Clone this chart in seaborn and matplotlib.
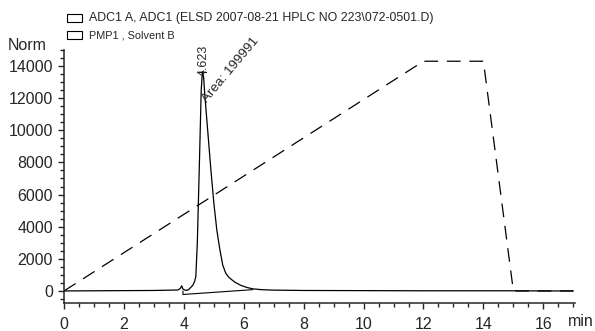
import numpy as np
import pandas as pd
import seaborn as sns
import matplotlib.pyplot as plt
from matplotlib.ticker import MultipleLocator

sns.set_style("ticks")
plt.rcParams['font.family'] = ['Liberation Sans', 'DejaVu Sans']

# ELSD signal
t_elsd = [0, 1, 2, 3, 3.8, 3.88, 3.93, 3.97, 4.05, 4.15, 4.22, 4.3, 4.36, 4.4, 4.45, 4.52, 4.58,
          4.62, 4.66, 4.7, 4.8, 4.9, 5.0, 5.1, 5.2, 5.3, 5.4, 5.5, 5.7, 5.9, 6.1, 6.3, 6.6,
          7, 8, 10, 12, 14, 15, 16, 17]
y_elsd = [0, 10, 20, 30, 60, 150, 320, 120, 40, 60, 200, 350, 600, 900, 3000, 8000, 12500,
          13650, 13300, 12200, 9900, 7600, 5500, 3800, 2600, 1600, 1100, 850, 550, 350, 220, 130, 80,
          50, 30, 20, 10, 10, 10, 0, 0]

# pump gradient, Solvent B
t_pump = [0, 12, 14, 15, 15.05, 17]
y_pump = [0, 14300, 14300, 0, 0, 0]

# integration baseline
t_base = [3.97, 3.97, 6.3]
y_base = [0, -220, 80]

peak_rt = 4.623
peak_h = 13650
peak_area = 199991

df_elsd = pd.DataFrame({"t": t_elsd, "v": y_elsd})
df_pump = pd.DataFrame({"t": t_pump, "v": y_pump})
df_base = pd.DataFrame({"t": t_base, "v": y_base})

fig = plt.figure(figsize=(5.95, 3.31), dpi=100)
ax = fig.add_axes([0.1076, 0.0846, 0.8584, 0.7644])

sns.lineplot(data=df_elsd, x="t", y="v", ax=ax, color="black", lw=0.9, sort=False, estimator=None)
sns.lineplot(data=df_pump, x="t", y="v", ax=ax, color="black", lw=0.9, sort=False,
             estimator=None, dashes=False)
ax.lines[-1].set_dashes([11, 7])
sns.lineplot(data=df_base, x="t", y="v", ax=ax, color="black", lw=0.8, sort=False, estimator=None)

# apex mark and labels
ax.plot([peak_rt - 0.12, peak_rt + 0.12], [peak_h, peak_h], color="black", lw=0.8)
ax.text(peak_rt + 0.04, peak_h - 300, f"{peak_rt:.3f}", rotation=90, ha="center", va="bottom",
        fontsize=9)
ax.text(4.78, 11700, f"Area: {peak_area}", rotation=50, ha="left", va="baseline",
        fontsize=9.7, rotation_mode="anchor")

ax.set_xlim(0, 17.05)
ax.set_ylim(-750, 15000)
ax.xaxis.set_major_locator(MultipleLocator(2))
ax.xaxis.set_minor_locator(MultipleLocator(0.5))
ax.yaxis.set_major_locator(MultipleLocator(2000))
ax.yaxis.set_minor_locator(MultipleLocator(500))
ax.tick_params(which="major", length=4, width=1, labelsize=11.5)
ax.tick_params(axis="x", which="major", pad=6)
ax.tick_params(axis="y", which="major", pad=4)
ax.tick_params(which="minor", length=3, width=1)
for s in ["top", "right"]:
    ax.spines[s].set_visible(False)
for s in ["left", "bottom"]:
    ax.spines[s].set_linewidth(1.1)
ax.set_xlabel("")
ax.set_ylabel("")

fig.text(8 / 595, 1 - 46 / 331, "Norm", fontsize=11.5, ha="left", va="center")
fig.text(568 / 595, 1 - 321 / 331, "min", fontsize=11.5, ha="left", va="center")

# legend-like header
for yy, label, fs in [(18, "ADC1 A, ADC1 (ELSD 2007-08-21 HPLC NO 223\\072-0501.D)", 8.9),
                      (35, "PMP1 , Solvent B", 7.8)]:
    fig.patches.append(plt.Rectangle((67 / 595, 1 - (yy + 4) / 331), 15 / 595, 8 / 331,
                                     transform=fig.transFigure, fill=False, lw=0.8,
                                     edgecolor="black"))
    fig.text(89 / 595, 1 - yy / 331, label, fontsize=fs, ha="left", va="center")

fig.savefig("out.png", dpi=100)
